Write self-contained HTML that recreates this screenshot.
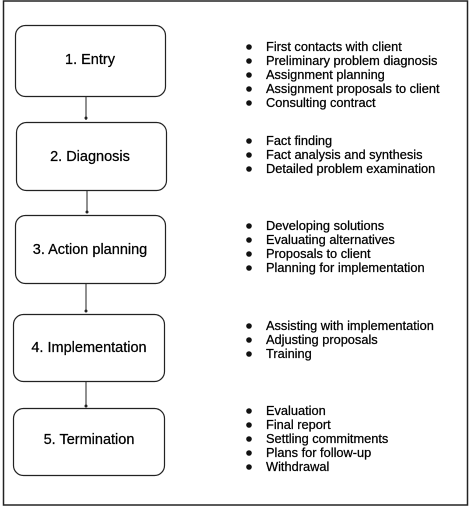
<!DOCTYPE html>
<html><head><style>
html,body{margin:0;padding:0;background:#fff;}
svg{display:block;}
text{font-family:"Liberation Sans",sans-serif;fill:#000;stroke:#000;stroke-width:0.25;}
</style></head><body>
<svg width="470" height="507" viewBox="0 0 470 507">
<rect x="3.5" y="1" width="464" height="504" fill="none" stroke="#222" stroke-width="1.5"/>
<g fill="#fff" stroke="#222" stroke-width="1.2">
<rect x="15.5" y="25.5" width="150" height="71" rx="10"/>
<rect x="16.5" y="122.5" width="150" height="68" rx="10"/>
<rect x="15.5" y="215.5" width="150" height="68" rx="10"/>
<rect x="13.5" y="314.5" width="151" height="67" rx="10"/>
<rect x="13.5" y="408.5" width="151" height="67" rx="10"/>
</g>
<g stroke="#222" stroke-width="1">
<line x1="86" y1="97" x2="86" y2="120"/>
<line x1="87" y1="191" x2="87" y2="213"/>
<line x1="86" y1="284" x2="86" y2="312"/>
<line x1="86" y1="382" x2="86" y2="406"/>
</g>
<g fill="#222">
<circle cx="86" cy="118" r="1.5"/><circle cx="87" cy="212" r="1.5"/><circle cx="86" cy="311" r="1.5"/><circle cx="86" cy="406" r="1.5"/>
</g>
<g font-size="14.5" text-anchor="middle">
<text x="90" y="64">1.  Entry</text>
<text x="90" y="161">2.  Diagnosis</text>
<text x="90" y="254">3.  Action planning</text>
<text x="89" y="352">4.  Implementation</text>
<text x="89" y="444">5.  Termination</text>
</g>
<g font-size="12.8">
<text x="266" y="51">First contacts with client</text>
<text x="266" y="65">Preliminary problem diagnosis</text>
<text x="266" y="79">Assignment planning</text>
<text x="266" y="93">Assignment proposals to client</text>
<text x="266" y="107">Consulting contract</text>
<text x="266" y="145">Fact finding</text>
<text x="266" y="159">Fact analysis and synthesis</text>
<text x="266" y="173">Detailed problem examination</text>
<text x="266" y="230">Developing solutions</text>
<text x="266" y="244">Evaluating alternatives</text>
<text x="266" y="258">Proposals to client</text>
<text x="266" y="272">Planning for implementation</text>
<text x="266" y="330">Assisting with implementation</text>
<text x="266" y="344">Adjusting proposals</text>
<text x="266" y="358">Training</text>
<text x="266" y="415">Evaluation</text>
<text x="266" y="429">Final report</text>
<text x="266" y="443">Settling commitments</text>
<text x="266" y="457">Plans for follow-up</text>
<text x="266" y="471">Withdrawal</text>
</g>
<g fill="#111">
<circle cx="249" cy="47" r="2.8"/><circle cx="249" cy="61" r="2.8"/><circle cx="249" cy="75" r="2.8"/><circle cx="249" cy="89" r="2.8"/><circle cx="249" cy="103" r="2.8"/>
<circle cx="249" cy="141" r="2.8"/><circle cx="249" cy="155" r="2.8"/><circle cx="249" cy="169" r="2.8"/>
<circle cx="249" cy="226" r="2.8"/><circle cx="249" cy="240" r="2.8"/><circle cx="249" cy="254" r="2.8"/><circle cx="249" cy="268" r="2.8"/>
<circle cx="249" cy="326" r="2.8"/><circle cx="249" cy="340" r="2.8"/><circle cx="249" cy="354" r="2.8"/>
<circle cx="249" cy="411" r="2.8"/><circle cx="249" cy="425" r="2.8"/><circle cx="249" cy="439" r="2.8"/><circle cx="249" cy="453" r="2.8"/><circle cx="249" cy="467" r="2.8"/>
</g>
</svg>
</body></html>
